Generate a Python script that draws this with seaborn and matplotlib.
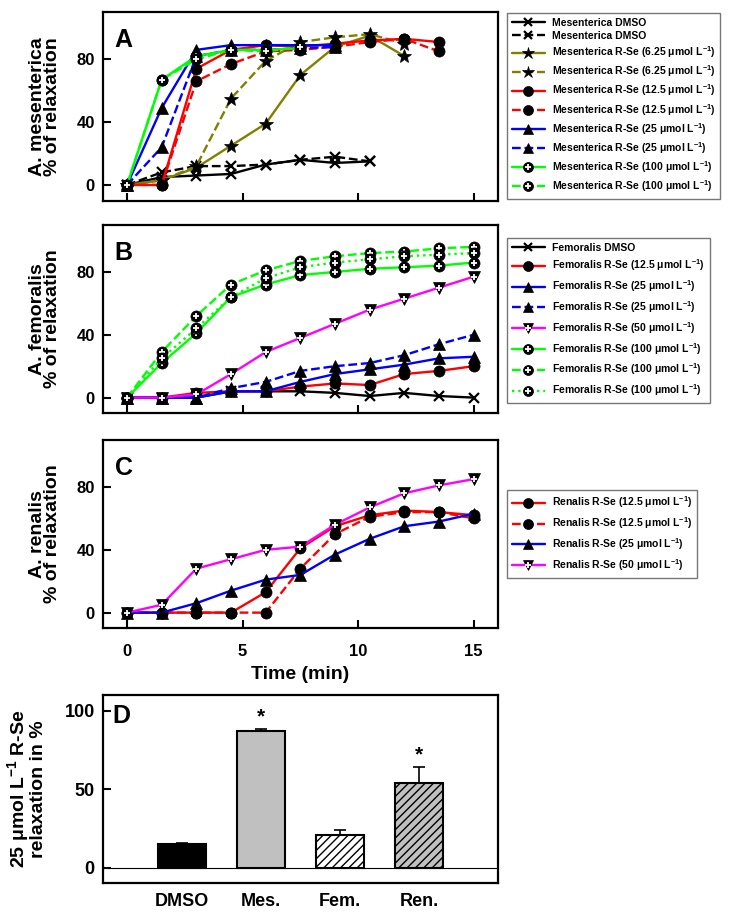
import matplotlib
matplotlib.use('Agg')
import matplotlib.pyplot as plt
from matplotlib.lines import Line2D
import seaborn as sns
import numpy as np

sns.set_style('ticks')
plt.rcParams['font.family'] = ['Liberation Sans', 'DejaVu Sans']
plt.rcParams['font.weight'] = 'bold'
plt.rcParams['mathtext.fontset'] = 'custom'
plt.rcParams['mathtext.rm'] = 'Liberation Sans:bold'
plt.rcParams['mathtext.bf'] = 'Liberation Sans:bold'
plt.rcParams['mathtext.it'] = 'Liberation Sans:bold:italic'
plt.rcParams['hatch.linewidth'] = 1.0
for k in ['text.color', 'axes.labelcolor', 'xtick.color', 'ytick.color', 'axes.edgecolor']:
    plt.rcParams[k] = 'black'

OLIVE, RED, BLUE, GREEN, MAGENTA = '#808000', '#ff0000', '#0000ff', '#00ff00', '#ff00ff'
UNIT = ' μmol L$^{-1}$)'

# temps (min)
time = [0, 1.5, 3, 4.5, 6, 7.5, 9, 10.5, 12, 13.5, 15]

# A. mesenterica
mes_dmso_1 = [0, 5, 6, 7, 13, 16, 14, 15]
mes_dmso_2 = [0, 8, 12, 12, 13, 16, 18, 15]
mes_625_1 = [0, 3, 11, 25, 39, 70, 88, 95, 82]
mes_625_2 = [0, 3, 12, 55, 79, 91, 94, 96, 90]
mes_125_1 = [0, 0, 74, 86, 89, 88, 90, 92, 93, 91]
mes_125_2 = [0, 0, 66, 77, 85, 86, 88, 91, 93, 85]
mes_25_1 = [0, 49, 86, 89, 89, 89, 89]
mes_25_2 = [0, 24, 82, 86, 86, 87, 88]
mes_100_1 = [0, 67, 82, 86, 86, 87]
mes_100_2 = [0, 67, 80, 86, 85, 88]

# A. femoralis
fem_dmso = [0, 0, 0, 4, 4, 4, 3, 1, 3, 1, 0]
fem_125 = [0, 0, 3, 4, 4, 7, 9, 8, 15, 17, 20]
fem_25_1 = [0, 0, 0, 4, 4, 10, 15, 18, 21, 25, 26]
fem_25_2 = [0, 0, 0, 6, 10, 17, 20, 22, 27, 34, 40]
fem_50 = [0, 0, 2, 15, 29, 38, 47, 56, 63, 70, 77]
fem_100_1 = [0, 22, 41, 64, 72, 78, 80, 82, 83, 84, 86]
fem_100_2 = [0, 29, 52, 72, 81, 87, 90, 92, 93, 95, 96]
fem_100_3 = [0, 25, 44, 64, 76, 83, 86, 88, 90, 91, 92]

# A. renalis
ren_125_1 = [0, 0, 0, 0, 13, 41, 55, 62, 65, 64, 62]
ren_125_2 = [0, 0, 0, 0, 0, 28, 50, 61, 64, 64, 60]
ren_25 = [0, 0, 6, 14, 21, 24, 37, 47, 55, 58, 63]
ren_50 = [0, 5, 28, 34, 40, 42, 56, 67, 76, 81, 85]

# D : 25 umol/L
bar_labels = ['DMSO', 'Mes.', 'Fem.', 'Ren.']
bar_values = [15, 87, 21, 54]
bar_err = [0.5, 1.5, 3.2, 10]
bar_colors = ['black', '#c0c0c0', 'white', '#c0c0c0']
bar_hatch = ['', '', '////', '////']
bar_star = [False, True, False, True]

MARKERS = {'x': dict(marker='x', ms=6.5, mew=1.6),
           'star': dict(marker='*', ms=10, mew=0.5),
           'o': dict(marker='o', ms=8, mew=0.5),
           '^': dict(marker='^', ms=8, mew=0.5),
           'op': dict(marker='o', ms=8, mew=0.5),
           'vp': dict(marker='v', ms=8.5, mew=0.5)}


def trace(ax, y, color, ls, mk):
    m = MARKERS[mk]
    t = time[:len(y)]
    sns.lineplot(x=t, y=y, ax=ax, color=color, linestyle=ls, lw=1.7,
                 marker=m['marker'], ms=m['ms'], mew=m['mew'],
                 mec='black', mfc='black', legend=False)
    h = Line2D([], [], color=color, ls=ls, lw=1.7, marker=m['marker'],
               ms=m['ms'], mew=m['mew'], mec='black', mfc='black')
    if mk in ('op', 'vp'):
        ax.plot(t, y, ls='none', marker='+', ms=4.2, mew=1.3, color='white')
        h = (h, Line2D([], [], ls='none', marker='+', ms=4.2, mew=1.3, color='white'))
    return h


def style_axes(ax, letter, ylabel, show_x=False):
    ax.set_xlim(-1.04, 16.05)
    ax.set_ylim(-10, 110)
    ax.set_xticks([0, 5, 10, 15])
    ax.set_yticks([0, 40, 80])
    ax.tick_params(direction='in', length=6, width=1.5, labelsize=12)
    ax.tick_params(axis='y', pad=6)
    ax.tick_params(axis='x', pad=11, labelbottom=show_x)
    for s in ax.spines.values():
        s.set_visible(True)
        s.set_linewidth(1.6)
    ax.set_ylabel(ylabel, fontsize=14, fontweight='bold', linespacing=0.88)
    ax.yaxis.set_label_coords(-0.105, 0.5)
    ax.set_xlabel('')
    ax.text(0.03, 0.915, letter, transform=ax.transAxes, fontsize=18,
            fontweight='bold', ha='left', va='top')


def add_legend(fig, ax, handles, labels, top, spacing):
    leg = ax.legend(handles, labels, loc='upper left',
                    bbox_to_anchor=(507 / 735, 1 - top / 915),
                    bbox_transform=fig.transFigure, fontsize=7.5,
                    frameon=True, fancybox=False, edgecolor='#555555',
                    handlelength=3.2, numpoints=1, labelspacing=spacing,
                    borderpad=0.45, handletextpad=0.7, borderaxespad=0,
                    markerscale=0.9)
    leg.get_frame().set_linewidth(1.0)


fig = plt.figure(figsize=(7.35, 9.15), dpi=100)
L, W, H = 0.1401, 0.5374, 0.206
ax_a = fig.add_axes([L, 0.7807, W, H])
ax_b = fig.add_axes([L, 0.5483, W, H])
ax_c = fig.add_axes([L, 0.3133, W, H])
ax_d = fig.add_axes([L, 0.0346, W, H])

# --- A
hs = [trace(ax_a, mes_dmso_1, 'black', '-', 'x'),
      trace(ax_a, mes_dmso_2, 'black', '--', 'x'),
      trace(ax_a, mes_625_1, OLIVE, '-', 'star'),
      trace(ax_a, mes_625_2, OLIVE, '--', 'star'),
      trace(ax_a, mes_125_1, RED, '-', 'o'),
      trace(ax_a, mes_125_2, RED, '--', 'o'),
      trace(ax_a, mes_25_1, BLUE, '-', '^'),
      trace(ax_a, mes_25_2, BLUE, '--', '^'),
      trace(ax_a, mes_100_1, GREEN, '-', 'op'),
      trace(ax_a, mes_100_2, GREEN, '--', 'op')]
labs = ['Mesenterica DMSO'] * 2 + \
       ['Mesenterica R-Se (6.25' + UNIT] * 2 + \
       ['Mesenterica R-Se (12.5' + UNIT] * 2 + \
       ['Mesenterica R-Se (25' + UNIT] * 2 + \
       ['Mesenterica R-Se (100' + UNIT] * 2
style_axes(ax_a, 'A', 'A. mesenterica\n% of relaxation')
add_legend(fig, ax_a, hs, labs, 13, 0.32)

# --- B
hs = [trace(ax_b, fem_dmso, 'black', '-', 'x'),
      trace(ax_b, fem_125, RED, '-', 'o'),
      trace(ax_b, fem_25_1, BLUE, '-', '^'),
      trace(ax_b, fem_25_2, BLUE, '--', '^'),
      trace(ax_b, fem_50, MAGENTA, '-', 'vp'),
      trace(ax_b, fem_100_1, GREEN, '-', 'op'),
      trace(ax_b, fem_100_2, GREEN, '--', 'op'),
      trace(ax_b, fem_100_3, GREEN, ':', 'op')]
labs = ['Femoralis DMSO', 'Femoralis R-Se (12.5' + UNIT] + \
       ['Femoralis R-Se (25' + UNIT] * 2 + \
       ['Femoralis R-Se (50' + UNIT] + ['Femoralis R-Se (100' + UNIT] * 3
style_axes(ax_b, 'B', 'A. femoralis\n% of relaxation')
add_legend(fig, ax_b, hs, labs, 238, 0.48)

# --- C
hs = [trace(ax_c, ren_125_1, RED, '-', 'o'),
      trace(ax_c, ren_125_2, RED, '--', 'o'),
      trace(ax_c, ren_25, BLUE, '-', '^'),
      trace(ax_c, ren_50, MAGENTA, '-', 'vp')]
labs = ['Renalis R-Se (12.5' + UNIT] * 2 + ['Renalis R-Se (25' + UNIT,
                                            'Renalis R-Se (50' + UNIT]
style_axes(ax_c, 'C', 'A. renalis\n% of relaxation', show_x=True)
ax_c.set_xlabel('Time (min)', fontsize=14, fontweight='bold', labelpad=5)
add_legend(fig, ax_c, hs, labs, 490, 0.48)

# --- D
sns.barplot(x=bar_labels, y=bar_values, ax=ax_d, width=0.61, color='black',
            edgecolor='black', linewidth=1.5, errorbar=None, saturation=1)
for p, c, h in zip(ax_d.patches, bar_colors, bar_hatch):
    p.set_facecolor(c)
    p.set_hatch(h)
    p.set_edgecolor('black')
ax_d.errorbar(range(len(bar_values)), bar_values,
              yerr=[np.zeros(len(bar_err)), bar_err], fmt='none',
              ecolor='black', elinewidth=1.2, capsize=4, capthick=1.2)
for i, (v, e, s) in enumerate(zip(bar_values, bar_err, bar_star)):
    if s:
        ax_d.text(i, v + e + 7.5, '*', ha='center', va='center', fontsize=15,
                  fontweight='bold')
ax_d.axhline(0, color='black', lw=0.8)
ax_d.set_xlim(-1, 4)
ax_d.set_ylim(-10, 110)
ax_d.set_yticks([0, 50, 100])
ax_d.tick_params(axis='y', direction='in', length=6, width=1.5, labelsize=13, pad=6)
ax_d.tick_params(axis='x', length=0, labelsize=13, pad=7)
for s in ax_d.spines.values():
    s.set_visible(True)
    s.set_linewidth(1.6)
ax_d.set_ylabel('25 μmol L$^{-1}$ R-Se\nrelaxation in %', fontsize=14,
                fontweight='bold', linespacing=0.88)
ax_d.yaxis.set_label_coords(-0.142, 0.5)
ax_d.text(0.023, 0.95, 'D', transform=ax_d.transAxes, fontsize=18,
          fontweight='bold', ha='left', va='top')

fig.savefig('out.png', dpi=100)
